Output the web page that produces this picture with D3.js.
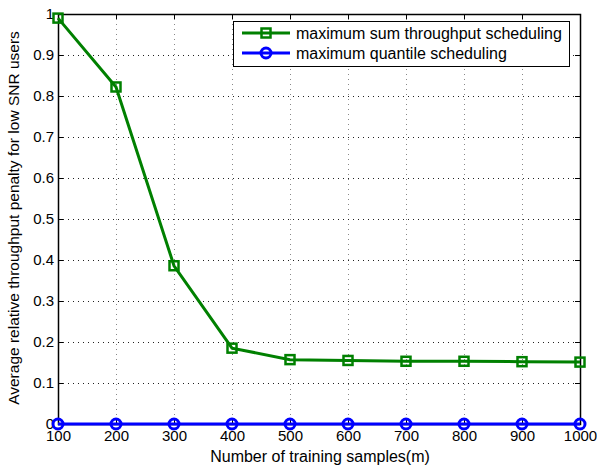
<!DOCTYPE html>
<html>
<head>
<meta charset="utf-8">
<script src="https://cdn.jsdelivr.net/npm/d3@7"></script>
<style>
  body { margin: 0; background: #fff; }
  svg text { font-family: "Liberation Sans", Arial, sans-serif; }
</style>
</head>
<body>
<div id="chart"></div>
<script>
var samples = [100, 200, 300, 400, 500, 600, 700, 800, 900, 1000]
  , sumThroughput = [0.99, 0.822, 0.386, 0.185, 0.157, 0.155, 0.153, 0.153, 0.152, 0.151]
  , quantile = [0, 0, 0, 0, 0, 0, 0, 0, 0, 0]
  , yTicks = [0, 0.1, 0.2, 0.3, 0.4, 0.5, 0.6, 0.7, 0.8, 0.9, 1]
  , seriesNames = ["maximum sum throughput scheduling", "maximum quantile scheduling"]

var width = 597
  , height = 468
  , plotLeft = 58, plotRight = 580, plotTop = 14, plotBottom = 424

var svg = d3.select("#chart").append("svg")
  .attr("width", width)
  .attr("height", height)

var x = d3.scaleLinear().domain([100, 1000]).range([plotLeft, plotRight])
  , y = d3.scaleLinear().domain([0, 1]).range([plotBottom, plotTop])

// grid
svg.append("g").selectAll("line")
    .data(samples.slice(1, -1))
  .enter().append("line")
    .attr("x1", function (d) { return Math.round(x(d)) + 0.5 })
    .attr("x2", function (d) { return Math.round(x(d)) + 0.5 })
    .attr("y1", plotTop).attr("y2", plotBottom)
    .style("stroke", "#888")
    .style("stroke-dasharray", "1,4")

svg.append("g").selectAll("line")
    .data(yTicks.slice(1, -1))
  .enter().append("line")
    .attr("y1", function (d) { return Math.round(y(d)) + 0.5 })
    .attr("y2", function (d) { return Math.round(y(d)) + 0.5 })
    .attr("x1", plotLeft).attr("x2", plotRight)
    .style("stroke", "#222")
    .style("stroke-dasharray", "1,4")

// box
svg.append("rect")
  .attr("x", plotLeft + 0.5).attr("y", plotTop + 0.5)
  .attr("width", plotRight - plotLeft).attr("height", plotBottom - plotTop)
  .style("fill", "none").style("stroke", "#000").style("stroke-width", 1.5)

// axes (ticks inward)
var xAxis = svg.append("g")
  .attr("transform", "translate(0," + plotBottom + ")")
  .call(d3.axisBottom(x).tickValues(samples).tickSize(-5).tickPadding(10).tickFormat(d3.format("d")))
svg.append("g")
  .attr("transform", "translate(0," + plotTop + ")")
  .call(d3.axisTop(x).tickValues(samples).tickSize(-5).tickFormat(""))
var yAxis = svg.append("g")
  .attr("transform", "translate(" + plotLeft + ",0)")
  .call(d3.axisLeft(y).tickValues(yTicks).tickSize(-5).tickPadding(10).tickFormat(d3.format("")))
svg.append("g")
  .attr("transform", "translate(" + plotRight + ",0)")
  .call(d3.axisRight(y).tickValues(yTicks).tickSize(-5).tickFormat(""))

svg.selectAll(".domain").remove()
svg.selectAll(".tick line").style("stroke", "#000")
svg.selectAll(".tick text")
  .style("font-size", "15px")
  .style("fill", "#000")
xAxis.selectAll(".tick text").attr("y", 6)
yAxis.selectAll(".tick text").attr("x", -4)

// labels
svg.append("text")
  .attr("x", (plotLeft + plotRight) / 2 + 1).attr("y", 462)
  .attr("text-anchor", "middle")
  .style("font-size", "16px")
  .text("Number of training samples(m)")

svg.append("text")
  .attr("transform", "translate(19," + ((plotTop + plotBottom) / 2 - 1) + ") rotate(-90)")
  .attr("text-anchor", "middle")
  .style("font-size", "15.5px")
  .text("Average relative throughput penalty for low SNR users")

// series
var line = d3.line()
  .x(function (d) { return x(d[0]) })
  .y(function (d) { return y(d[1]) })

var green = "#008000", blue = "#0000ff"

svg.append("path")
  .datum(d3.zip(samples, sumThroughput))
  .attr("d", line)
  .style("fill", "none").style("stroke", green).style("stroke-width", 3)

svg.append("g").selectAll("rect")
    .data(d3.zip(samples, sumThroughput))
  .enter().append("rect")
    .attr("x", function (d) { return x(d[0]) - 4.5 })
    .attr("y", function (d) { return y(d[1]) - 4.5 })
    .attr("width", 9).attr("height", 9)
    .style("fill", "none").style("stroke", green).style("stroke-width", 2.5)

svg.append("path")
  .datum(d3.zip(samples, quantile))
  .attr("d", line)
  .style("fill", "none").style("stroke", blue).style("stroke-width", 3)

svg.append("g").selectAll("circle")
    .data(d3.zip(samples, quantile))
  .enter().append("circle")
    .attr("cx", function (d) { return x(d[0]) })
    .attr("cy", function (d) { return y(d[1]) })
    .attr("r", 5)
    .style("fill", "none").style("stroke", blue).style("stroke-width", 3)

// legend
var lg = svg.append("g").attr("transform", "translate(233,21)")
lg.append("rect")
  .attr("x", 0.5).attr("y", 0.5).attr("width", 336).attr("height", 45)
  .style("fill", "#fff").style("stroke", "#000").style("stroke-width", 1)

var colors = [green, blue]
seriesNames.forEach(function (name, i) {
  var cy = 12 + i * 20
  lg.append("line")
    .attr("x1", 9).attr("x2", 57).attr("y1", cy).attr("y2", cy)
    .style("stroke", colors[i]).style("stroke-width", 3)
  if (i === 0) {
    lg.append("rect").attr("x", 28.5).attr("y", cy - 4.5).attr("width", 9).attr("height", 9)
      .style("fill", "none").style("stroke", green).style("stroke-width", 2.5)
  } else {
    lg.append("circle").attr("cx", 33).attr("cy", cy).attr("r", 5)
      .style("fill", "none").style("stroke", blue).style("stroke-width", 3)
  }
  lg.append("text")
    .attr("x", 63).attr("y", cy).attr("dy", "0.35em")
    .style("font-size", "16px")
    .text(name)
})
</script>
</body>
</html>
